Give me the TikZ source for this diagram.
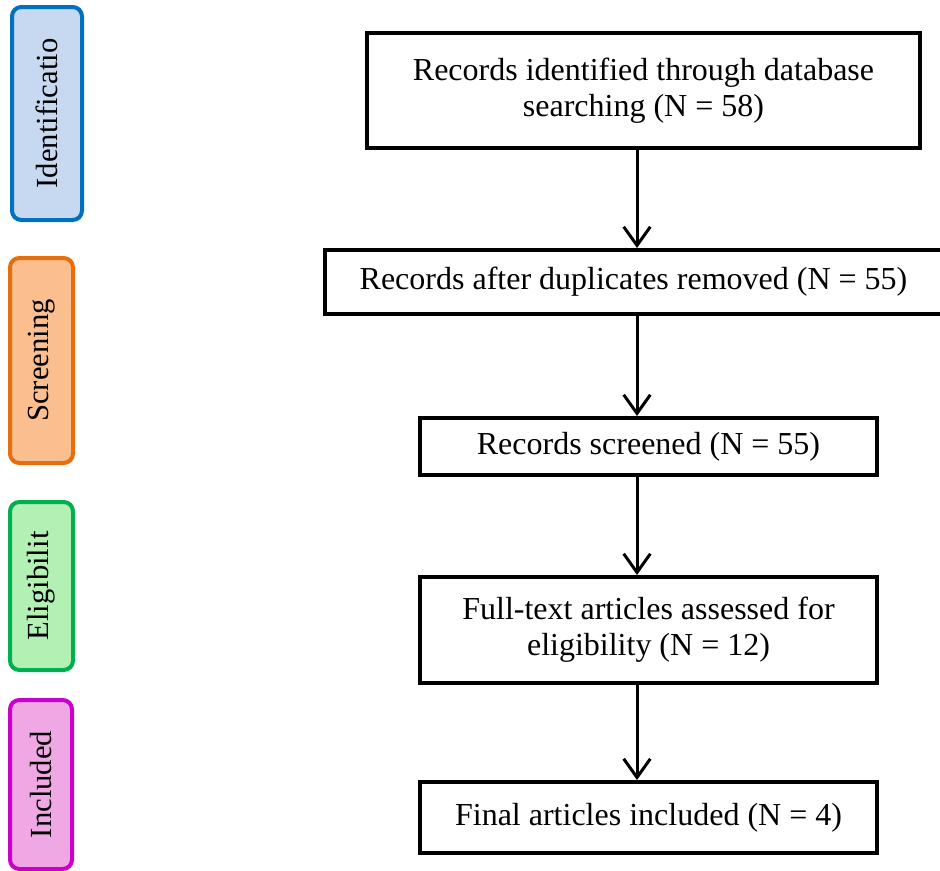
\documentclass[tikz,border=0pt]{standalone}
\usepackage{fontspec}
\setmainfont{Liberation Serif}
\usepackage{xcolor}
\usetikzlibrary{arrows.meta}

\definecolor{idline}{RGB}{0,112,192}
\definecolor{idfill}{RGB}{198,217,240}
\definecolor{scline}{RGB}{230,110,15}
\definecolor{scfill}{RGB}{250,190,143}
\definecolor{elline}{RGB}{0,176,80}
\definecolor{elfill}{RGB}{178,240,180}
\definecolor{inline}{RGB}{204,0,204}
\definecolor{infill}{RGB}{240,168,228}

\begin{document}
\begin{tikzpicture}[x=0.75pt, y=-0.75pt,
  box/.style={rectangle, draw=black, line width=3pt, align=center, font=\fontsize{24}{27}\selectfont, inner sep=4pt},
  phase/.style={rectangle, rounded corners=7pt, line width=3pt, inner sep=0pt, font=\fontsize{23}{26}\selectfont, rotate=90},
  arrow/.style={-{Straight Barb[length=14pt, width=20pt, line width=2.25pt]}, line width=2.25pt}
]
\useasboundingbox (0,0) rectangle (940,871);

% Phase labels
\node[phase, draw=idline, fill=idfill, minimum width=159.75pt, minimum height=52.5pt] (ident) at (47,113.5) {Identificatio};
\node[phase, draw=scline, fill=scfill, minimum width=153.75pt, minimum height=47.25pt] (screen) at (41.5,360.5) {Screening};
\node[phase, draw=elline, fill=elfill, minimum width=126pt, minimum height=47.25pt] (elig) at (41.5,586) {Eligibilit};
\node[phase, draw=inline, fill=infill, minimum width=126.75pt, minimum height=46.5pt] (incl) at (41,784.5) {Included};

% Flow boxes
\node[box, minimum width=414.75pt, minimum height=86.25pt] (found) at (643.5,90.5) {Records identified through database\\searching (N = 58)};
\node[box, minimum width=462.75pt, minimum height=48pt] (dedup) at (633.5,282) {Records after duplicates removed (N = 55)};
\node[box, minimum width=342.75pt, minimum height=42.75pt] (screened) at (648.5,446.5) {Records screened (N = 55)};
\node[box, minimum width=342.75pt, minimum height=79.5pt] (fulltext) at (648.5,630) {Full-text articles assessed for\\eligibility (N = 12)};
\node[box, minimum width=342.75pt, minimum height=53.25pt] (final) at (648.5,817.5) {Final articles included (N = 4)};

% Connections
\coordinate (spine) at (637,0);
\draw[arrow] (found.south -| spine) -- (dedup.north -| spine);
\draw[arrow] (dedup.south -| spine) -- (screened.north -| spine);
\draw[arrow] (screened.south -| spine) -- (fulltext.north -| spine);
\draw[arrow] (fulltext.south -| spine) -- (final.north -| spine);

\end{tikzpicture}
\end{document}
